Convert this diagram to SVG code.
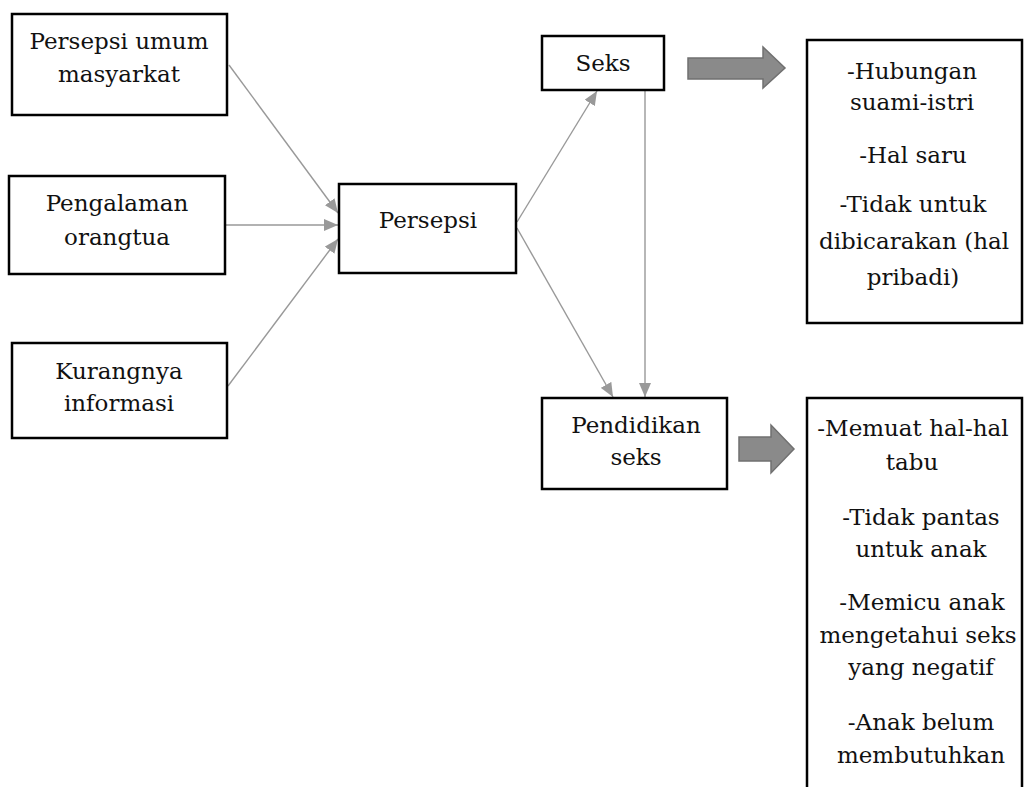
<svg xmlns="http://www.w3.org/2000/svg" width="1025" height="787" viewBox="0 0 1025 787">
<defs>
<style>
.box{fill:#fff;stroke:#000;stroke-width:2.5}
.t{font-family:"DejaVu Serif","Liberation Serif",serif;font-size:23px;fill:#111;text-anchor:middle}
.c{stroke:#999;stroke-width:1.4;fill:none;marker-end:url(#ah)}
.blk{fill:#8a8a8a;stroke:#707070;stroke-width:1.5}
</style>
<marker id="ah" viewBox="0 0 14 12" refX="14" refY="6" markerWidth="14" markerHeight="12" markerUnits="userSpaceOnUse" orient="auto">
<path d="M0,0 L14,6 L0,12 Z" fill="#999"/>
</marker>
</defs>
<rect width="1025" height="787" fill="#fff"/>
<g id="connectors">
<line class="c" x1="229" y1="65" x2="338" y2="213"/>
<line class="c" x1="226" y1="225" x2="338" y2="225"/>
<line class="c" x1="228" y1="386" x2="338" y2="239"/>
<line class="c" x1="517" y1="222" x2="597" y2="91"/>
<line class="c" x1="517" y1="228" x2="613" y2="397"/>
<line class="c" x1="645" y1="90" x2="645" y2="397"/>
<path class="blk" d="M688,58 L763,58 L763,47 L785,68 L763,88 L763,79 L688,79 Z"/>
<path class="blk" d="M739,437 L771,437 L771,425 L794,449 L771,473 L771,461 L739,461 Z"/>
</g>
<g id="n-persepsi-umum">
<rect class="box" x="12" y="14" width="215" height="101"/>
<text class="t" x="119" y="49">Persepsi umum</text>
<text class="t" x="119" y="82">masyarkat</text>
</g>
<g id="n-pengalaman">
<rect class="box" x="9" y="176" width="216" height="98"/>
<text class="t" x="117" y="211">Pengalaman</text>
<text class="t" x="117" y="245">orangtua</text>
</g>
<g id="n-kurangnya">
<rect class="box" x="12" y="343" width="215" height="95"/>
<text class="t" x="119" y="379">Kurangnya</text>
<text class="t" x="119" y="411">informasi</text>
</g>
<g id="n-persepsi">
<rect class="box" x="339" y="184" width="177" height="89"/>
<text class="t" x="428" y="228">Persepsi</text>
</g>
<g id="n-seks">
<rect class="box" x="542" y="36" width="122" height="54"/>
<text class="t" x="603" y="71">Seks</text>
</g>
<g id="n-pendidikan">
<rect class="box" x="542" y="398" width="185" height="91"/>
<text class="t" x="636" y="433">Pendidikan</text>
<text class="t" x="636" y="465">seks</text>
</g>
<g id="n-seks-desc">
<rect class="box" x="807" y="40" width="215" height="283"/>
<text class="t" x="912" y="79">-Hubungan</text>
<text class="t" x="912" y="110">suami-istri</text>
<text class="t" x="913" y="163">-Hal saru</text>
<text class="t" x="913" y="212">-Tidak untuk</text>
<text class="t" x="914" y="249">dibicarakan (hal</text>
<text class="t" x="913" y="285">pribadi)</text>
</g>
<g id="n-pendidikan-desc">
<path class="box" d="M807,800 L807,398 L1022,398 L1022,800"/>
<text class="t" x="913" y="436">-Memuat hal-hal</text>
<text class="t" x="912" y="470">tabu</text>
<text class="t" x="921" y="525">-Tidak pantas</text>
<text class="t" x="921" y="557">untuk anak</text>
<text class="t" x="922" y="610">-Memicu anak</text>
<text class="t" x="918" y="643">mengetahui seks</text>
<text class="t" x="921" y="675">yang negatif</text>
<text class="t" x="921" y="730">-Anak belum</text>
<text class="t" x="921" y="763">membutuhkan</text>
</g>
</svg>
